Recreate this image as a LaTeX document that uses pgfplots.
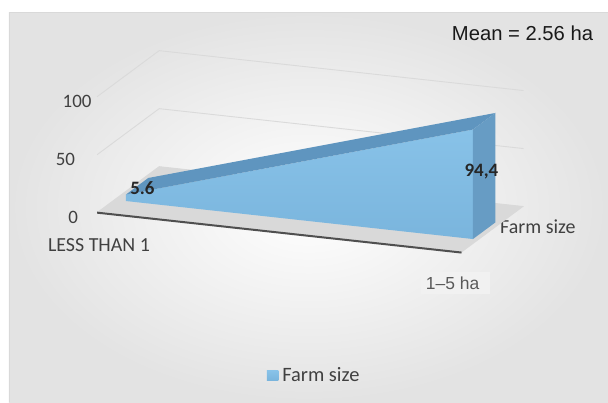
\documentclass[border=0pt]{standalone}
\usepackage{fontspec}
\setmainfont{Carlito}
\newfontfamily\arialfont{Liberation Sans}
\usepackage{pgfplots}
\pgfplotsset{compat=1.18}
\usetikzlibrary{backgrounds}

\definecolor{fronttop}{HTML}{88C2E8}
\definecolor{frontbottom}{HTML}{7AB5DD}
\definecolor{topblue}{HTML}{5F95BF}
\definecolor{sideblue}{HTML}{679CC4}
\definecolor{legendblue}{HTML}{8AC1E6}
\definecolor{floorgray}{HTML}{D9D9D9}
\definecolor{flooredge}{HTML}{4F4F4F}
\definecolor{gridgray}{HTML}{DADADA}
\definecolor{labelgray}{HTML}{404040}
\definecolor{catgray}{HTML}{595959}
\definecolor{catbox}{HTML}{F1F1F1}
\definecolor{valuegray}{HTML}{262626}

\begin{document}
\begin{tikzpicture}
\begin{axis}[
  x={(347bp,-38bp)}, y={(62bp,46bp)}, z={(0bp,1.16bp)},
  xmin=-0.033, xmax=1.017, ymin=0, ymax=1, zmin=0, zmax=100,
  clip=false,
  axis line style={draw=none},
  major tick style={draw=none},
  major tick length=0pt,
  zmajorgrids,
  grid style={gridgray, line width=0.9bp},
  xtick={0,1},
  xticklabels={{LESS THAN 1\hspace*{19.2bp}},
    {\arialfont\fontsize{17.5}{17.5}\selectfont\setlength{\fboxsep}{5bp}\colorbox{catbox}{\color{catgray}1–5 ha\hspace*{6bp}}}},
  xticklabel style={anchor=base, inner sep=0pt, yshift=-37.3bp, text=labelgray,
    font=\fontsize{20}{20}\selectfont},
  ytick={0.46}, yticklabels={Farm size},
  yticklabel style={anchor=west, inner sep=0pt, xshift=10bp, yshift=4.3bp, text=labelgray,
    font=\fontsize{20}{20}\selectfont},
  ztick={0,50,100},
  zticklabels={0\hspace*{19bp},50\hspace*{22bp},100\hspace*{5.5bp}},
  zticklabel style={anchor=east, inner sep=0pt, yshift=-4.5bp, text=labelgray,
    font=\fontsize{19}{19}\selectfont},
  legend style={at={(axis description cs:0.509,-0.609)}, anchor=center, draw=none, fill=none,
    font=\fontsize{20.5}{20.5}\selectfont, text=labelgray, column sep=2bp},
  legend cell align=left,
  legend image code/.code={\fill[legendblue] (0bp,-4.7bp) rectangle (11.4bp,4.7bp);},
]
% floor of the plot box
\addplot3[forget plot, fill=floorgray, draw=none]
  coordinates {(-0.033,0,0) (1.017,0,0) (1.017,1,0) (-0.033,1,0)} -- cycle;
\addplot3[forget plot, flooredge, line width=2bp]
  coordinates {(-0.033,0,0) (1.017,0,0)};

% the series: front face, top face and right end of the 3-D band
\addplot3[top color=fronttop, bottom color=frontbottom, draw=none]
  coordinates {(0,0.28,0) (1,0.28,0) (1,0.28,94.4) (0,0.28,5.6)} -- cycle;
\addlegendentry{Farm size}
\addplot3[forget plot, fill=topblue, draw=none]
  coordinates {(0,0.28,5.6) (1,0.28,94.4) (1,0.64,94.4) (0,0.64,5.6)} -- cycle;
\addplot3[forget plot, fill=sideblue, draw=none]
  coordinates {(1,0.28,0) (1,0.64,0) (1,0.64,94.4) (1,0.28,94.4)} -- cycle;

% value labels
\node[font=\bfseries\fontsize{19}{19}\selectfont, text=valuegray, xshift=16.5bp, yshift=6.5bp]
  at (axis cs:0,0.28,5.6) {5.6};
\node[font=\bfseries\fontsize{19}{19}\selectfont, text=valuegray, xshift=8.5bp, yshift=-42.5bp]
  at (axis cs:1,0.28,94.4) {94,4};

\coordinate (O) at (axis cs:0,0,0);
\end{axis}

% chart area, in pixel-like units measured from the top-left corner
\begin{scope}[shift={(O)}, xshift=-108.6bp, yshift=213.9bp, x=1bp, y=-1bp]
  \begin{scope}[on background layer]
    \fill[white] (0,0) rectangle (608,402);
    \shade[inner color=white, outer color=black!11] (9,12) rectangle (608,402);
    \draw[black!15, line width=0.6bp] (9,402) -- (9,12) -- (608,12);
  \end{scope}
  \node[anchor=base east, inner sep=0pt, font=\arialfont\fontsize{20.3}{20.3}\selectfont, text=black!90]
    at (593.3,40.7) {Mean = 2.56 ha};
  \pgfresetboundingbox
  \path[use as bounding box] (0,0) rectangle (608,402);
\end{scope}
\end{tikzpicture}
\end{document}
